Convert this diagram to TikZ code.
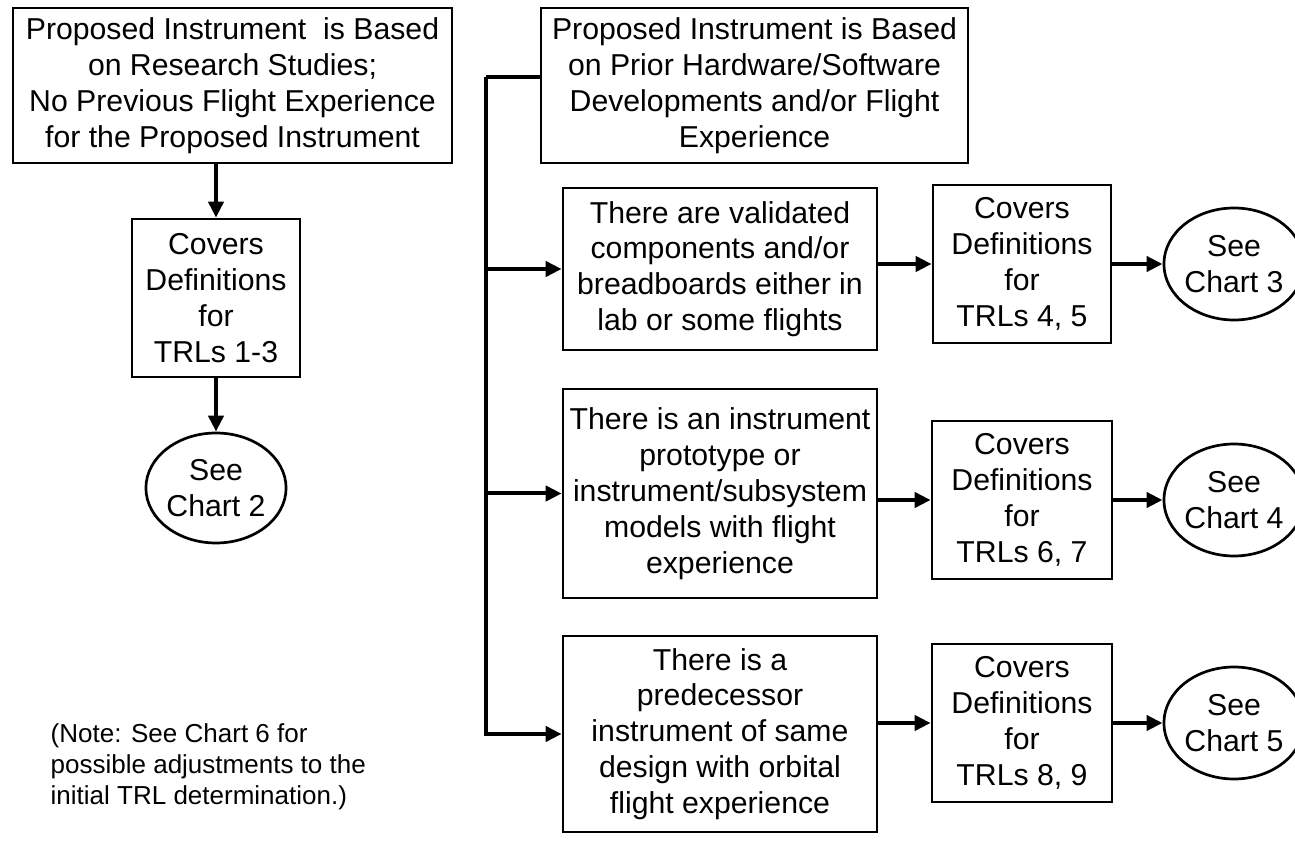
\documentclass[tikz,border=0pt]{standalone}
\usepackage{fontspec}
\setmainfont{Liberation Sans}
\usetikzlibrary{arrows.meta,shapes.geometric}
\tikzset{
  box/.style={draw, line width=0.027cm, align=center, inner sep=0pt,
    font=\fontsize{8.6}{10.2}\selectfont},
  oval/.style={draw, ellipse, line width=0.027cm, align=center, inner sep=0pt,
    minimum width=1.30cm, minimum height=1.12cm, font=\fontsize{8.6}{10.2}\selectfont},
  arr/.style={line width=0.04cm, -{Triangle[length=0.16cm,width=0.15cm]}},
}
\begin{document}
\begin{tikzpicture}
                    \useasboundingbox (0,0) rectangle (12.95,8.51);
                    \clip (0,0) rectangle (12.95,8.51);

                    % Left column: research based instrument
                    \node [box, minimum width=4.39cm, minimum height=1.55cm] (research) at (2.325,7.655)
                      {Proposed Instrument\ \ is Based\\ on Research Studies;\\ No Previous Flight Experience\\ for the Proposed Instrument};%
                    \node [box, minimum width=1.68cm, minimum height=1.58cm] (trlA) at (2.160,5.530)
                      {Covers\\ Definitions\\ for\\ TRLs 1-3};%
                    \node [oval, minimum width=1.32cm, minimum height=1.10cm] (chartA) at (2.160,3.630) {See\\ Chart 2};%

                    % Right column: prior developments
                    \node [box, minimum width=4.27cm, minimum height=1.55cm] (prior) at (7.545,7.655)
                      {Proposed Instrument is Based\\ on Prior Hardware/Software\\ Developments and/or Flight\\ Experience};%
                    \coordinate (bus) at (4.860,7.740);%

                    % Row 1
                    \node [box, minimum width=3.14cm, minimum height=1.62cm] (validated) at (7.200,5.820)
                      {There are validated\\ components and/or\\ breadboards either in\\ lab or some flights};%
                    \node [box, minimum width=1.78cm, minimum height=1.58cm] (trlB) at (10.220,5.870)
                      {Covers\\ Definitions\\ for\\ TRLs 4, 5};%
                    \node [oval] (chartB) at (12.340,5.870) {See\\ Chart 3};%

                    % Row 2
                    \node [box, minimum width=3.14cm, minimum height=2.09cm] (prototype) at (7.200,3.575)
                      {There is an instrument\\ prototype or\\ instrument/subsystem\\ models with flight\\ experience};%
                    \node [box, minimum width=1.80cm, minimum height=1.58cm] (trlC) at (10.220,3.510)
                      {Covers\\ Definitions\\ for\\ TRLs 6, 7};%
                    \node [oval] (chartC) at (12.340,3.510) {See\\ Chart 4};%

                    % Row 3
                    \node [box, minimum width=3.14cm, minimum height=1.96cm] (predecessor) at (7.200,1.170)
                      {There is a\\ predecessor\\ instrument of same\\ design with orbital\\ flight experience};%
                    \node [box, minimum width=1.80cm, minimum height=1.58cm] (trlD) at (10.220,1.280)
                      {Covers\\ Definitions\\ for\\ TRLs 8, 9};%
                    \node [oval] (chartD) at (12.340,1.280) {See\\ Chart 5};%

                    % Note
                    \node [anchor=west, align=left, inner sep=0pt, font=\fontsize{7.4}{8.8}\selectfont] (note) at (0.50,0.840)
                      {(Note: See Chart 6 for\\ possible adjustments to the\\ initial TRL determination.)};%

                    % Connectors on the left
                    \draw [arr] (research.south -| trlA.north) -- (trlA.north);%
                    \draw [arr] (trlA.south) -- (chartA.north);%

                    % Connectors on the right
                    \draw [line width=0.04cm] (prior.west |- bus) -- (bus);%
                    \draw [arr] (bus) |- (predecessor.west);%
                    \draw [arr] (bus |- validated.west) -- (validated.west);%
                    \draw [arr] (bus |- prototype.west) -- (prototype.west);%
                    \draw [arr] (trlB.west -| validated.east) -- (trlB.west);%
                    \draw [arr] (trlC.west -| prototype.east) -- (trlC.west);%
                    \draw [arr] (trlD.west -| predecessor.east) -- (trlD.west);%
                    \draw [arr] (trlB.east) -- (chartB.west);%
                    \draw [arr] (trlC.east) -- (chartC.west);%
                    \draw [arr] (trlD.east) -- (chartD.west);%
\end{tikzpicture}
\end{document}
